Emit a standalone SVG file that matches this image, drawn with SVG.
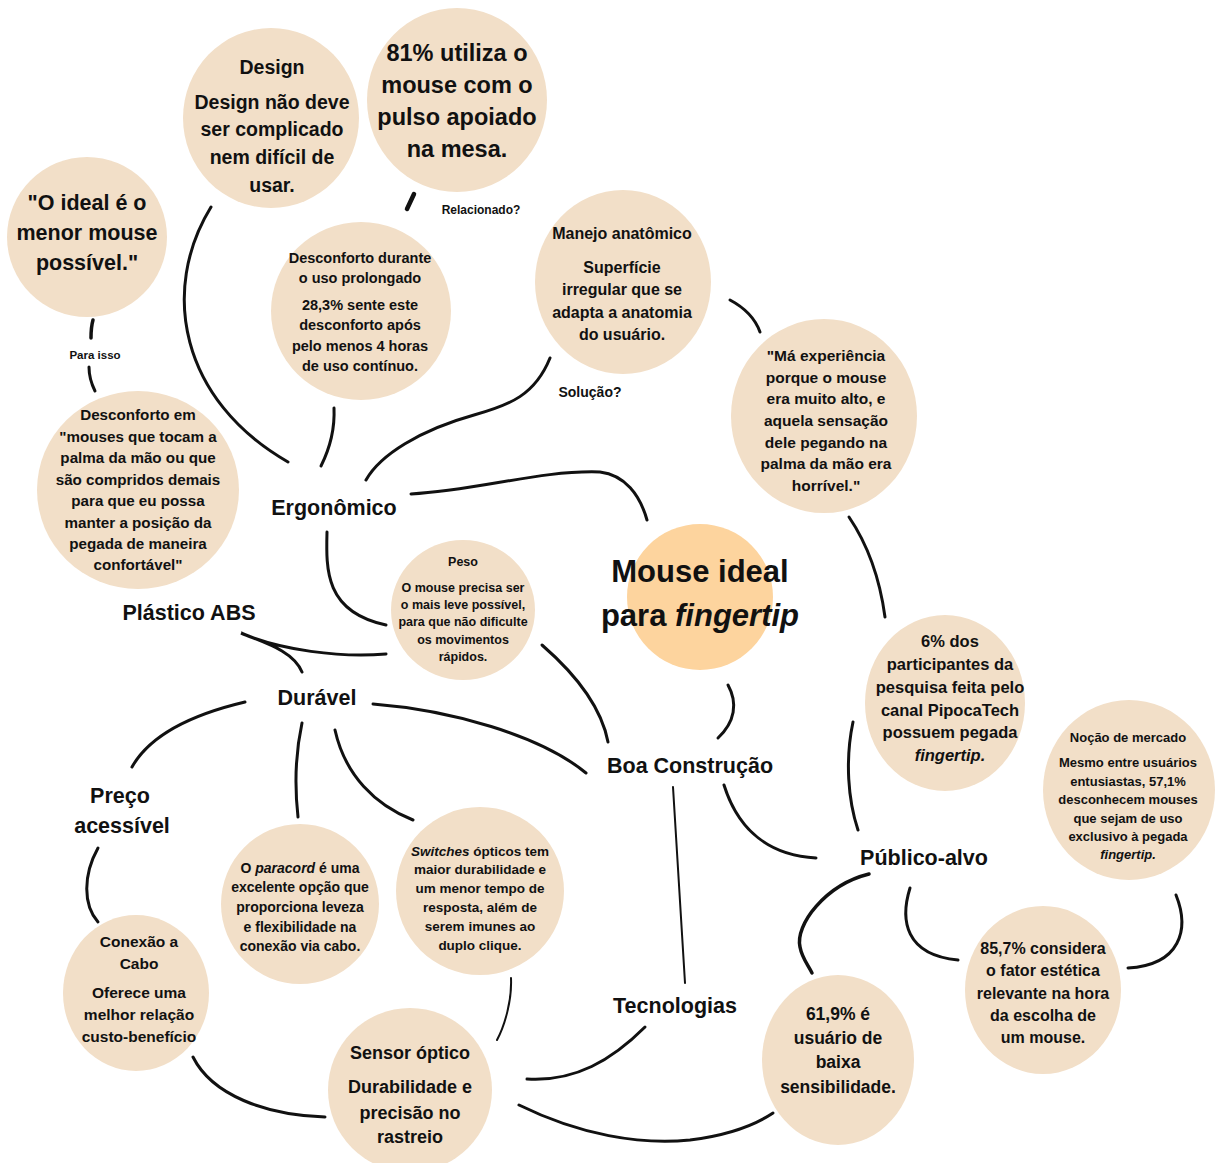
<svg xmlns="http://www.w3.org/2000/svg" width="1217" height="1163" viewBox="0 0 1217 1163">
<style>
.bg{fill:#ffffff}
.n{fill:#f2dfc8}
.m{fill:#fdd49e}
text{font-family:"Liberation Sans",Arial,sans-serif;font-weight:bold;fill:#111;text-anchor:middle}
.c path{fill:none;stroke:#111;stroke-width:3;stroke-linecap:round}
.lb{font-size:21.5px}
.i{font-style:italic}
</style>
<rect class="bg" width="1217" height="1163"/>

<g id="connectors" class="c">
<path d="M211,207 C160,290 180,400 288,462"/>
<path d="M414,194 L407,209" style="stroke-width:4.5"/>
<path d="M334,408 C335,430 330,448 321,466"/>
<path d="M93,320 C91,327 91,333 91,338" style="stroke-width:3.5"/>
<path d="M89,367 C89,378 92,385 95,391"/>
<path d="M550,358 C535,395 510,405 474,415 C420,430 380,455 366,480"/>
<path d="M730,300 C745,308 755,318 760,332"/>
<path d="M411,494 C480,490 540,470 600,472 C625,475 640,495 647,520"/>
<path d="M849,517 C868,545 880,580 885,617"/>
<path d="M327,532 C326,570 325,612 386,625"/>
<path d="M386,654 C340,658 280,650 241,633 C262,642 293,650 302,672"/>
<path d="M542,645 C565,665 600,700 608,742"/>
<path d="M728,685 C738,703 735,722 718,738"/>
<path d="M245,702 C190,715 150,735 132,767"/>
<path d="M373,704 C450,710 540,735 586,773"/>
<path d="M302,723 C294,760 295,790 298,817"/>
<path d="M335,730 C345,775 375,805 413,820"/>
<path d="M98,848 C83,875 83,905 98,922"/>
<path d="M193,1057 C212,1095 265,1115 325,1117"/>
<path d="M511,978 C512,1000 505,1025 497,1040" style="stroke-width:2"/>
<path d="M673,787 L685,983" style="stroke-width:2"/>
<path d="M645,1027 C612,1060 575,1082 527,1079"/>
<path d="M519,1105 C580,1135 640,1145 690,1140 C730,1135 755,1125 773,1113"/>
<path d="M724,785 C735,820 760,855 816,858"/>
<path d="M853,722 C845,760 848,800 858,830"/>
<path d="M869,874 C825,885 795,925 800,947 C802,958 808,965 812,973" style="stroke-width:3.5"/>
<path d="M910,888 C900,920 905,955 958,960"/>
<path d="M1176,895 C1190,930 1180,965 1128,968"/>
</g>

<g id="design">
<ellipse class="n" cx="271" cy="118" rx="88" ry="90"/>
<text font-size="19.5" x="272" y="74">Design</text>
<text font-size="19.5" x="272"><tspan x="272" y="109">Design não deve</tspan><tspan x="272" y="136">ser complicado</tspan><tspan x="272" y="164">nem difícil de</tspan><tspan x="272" y="192">usar.</tspan></text>
</g>

<g id="pulso">
<ellipse class="n" cx="457" cy="100" rx="90" ry="92"/>
<text font-size="23.5"><tspan x="457" y="61">81% utiliza o</tspan><tspan x="457" y="93">mouse com o</tspan><tspan x="457" y="125">pulso apoiado</tspan><tspan x="457" y="157">na mesa.</tspan></text>
</g>

<g id="ideal">
<ellipse class="n" cx="87" cy="237" rx="80" ry="80"/>
<text font-size="21.5"><tspan x="87" y="210">"O ideal é o</tspan><tspan x="87" y="240">menor mouse</tspan><tspan x="87" y="270">possível."</tspan></text>
</g>

<g id="desconforto-prolongado">
<ellipse class="n" cx="361" cy="311" rx="90" ry="89"/>
<text font-size="14.5"><tspan x="360" y="263">Desconforto durante</tspan><tspan x="360" y="283">o uso prolongado</tspan><tspan x="360" y="310">28,3% sente este</tspan><tspan x="360" y="330">desconforto após</tspan><tspan x="360" y="351">pelo menos 4 horas</tspan><tspan x="360" y="371">de uso contínuo.</tspan></text>
</g>

<g id="manejo">
<ellipse class="n" cx="623" cy="282" rx="88" ry="92"/>
<text font-size="16"><tspan x="622" y="239">Manejo anatômico</tspan><tspan x="622" y="273">Superfície</tspan><tspan x="622" y="295">irregular que se</tspan><tspan x="622" y="318">adapta a anatomia</tspan><tspan x="622" y="340">do usuário.</tspan></text>
</g>

<g id="ma-experiencia">
<ellipse class="n" cx="824" cy="416" rx="93" ry="97"/>
<text font-size="15.5"><tspan x="826" y="361">"Má experiência</tspan><tspan x="826" y="383">porque o mouse</tspan><tspan x="826" y="404">era muito alto, e</tspan><tspan x="826" y="426">aquela sensação</tspan><tspan x="826" y="448">dele pegando na</tspan><tspan x="826" y="469">palma da mão era</tspan><tspan x="826" y="491">horrível."</tspan></text>
</g>

<g id="desconforto-palma">
<ellipse class="n" cx="138" cy="490" rx="101" ry="99"/>
<text font-size="15.2"><tspan x="138" y="420">Desconforto em</tspan><tspan x="138" y="442">"mouses que tocam a</tspan><tspan x="138" y="463">palma da mão ou que</tspan><tspan x="138" y="485">são compridos demais</tspan><tspan x="138" y="506">para que eu possa</tspan><tspan x="138" y="528">manter a posição da</tspan><tspan x="138" y="549">pegada de maneira</tspan><tspan x="138" y="570">confortável"</tspan></text>
</g>

<g id="peso">
<ellipse class="n" cx="463" cy="610" rx="72" ry="70"/>
<text font-size="12.5"><tspan x="463" y="566">Peso</tspan><tspan x="463" y="592">O mouse precisa ser</tspan><tspan x="463" y="609">o mais leve possível,</tspan><tspan x="463" y="626">para que não dificulte</tspan><tspan x="463" y="644">os movimentos</tspan><tspan x="463" y="661">rápidos.</tspan></text>
</g>

<g id="central">
<circle class="m" cx="700" cy="597" r="73"/>
<text font-size="31"><tspan x="700" y="582">Mouse ideal</tspan><tspan x="700" y="626">para <tspan class="i">fingertip</tspan></tspan></text>
</g>

<g id="pipocatech">
<ellipse class="n" cx="945" cy="703" rx="80" ry="88"/>
<text font-size="16.5"><tspan x="950" y="647">6% dos</tspan><tspan x="950" y="670">participantes da</tspan><tspan x="950" y="693">pesquisa feita pelo</tspan><tspan x="950" y="716">canal PipocaTech</tspan><tspan x="950" y="738">possuem pegada</tspan><tspan x="950" y="761" class="i">fingertip.</tspan></text>
</g>

<g id="nocao-mercado">
<ellipse class="n" cx="1129" cy="790" rx="86" ry="90"/>
<text font-size="13"><tspan x="1128" y="742">Noção de mercado</tspan><tspan x="1128" y="767">Mesmo entre usuários</tspan><tspan x="1128" y="786">entusiastas, 57,1%</tspan><tspan x="1128" y="804">desconhecem mouses</tspan><tspan x="1128" y="823">que sejam de uso</tspan><tspan x="1128" y="841">exclusivo à pegada</tspan><tspan x="1128" y="859" class="i">fingertip.</tspan></text>
</g>

<g id="estetica">
<ellipse class="n" cx="1043" cy="990" rx="78" ry="84"/>
<text font-size="16"><tspan x="1043" y="954">85,7% considera</tspan><tspan x="1043" y="976">o fator estética</tspan><tspan x="1043" y="999">relevante na hora</tspan><tspan x="1043" y="1021">da escolha de</tspan><tspan x="1043" y="1043">um mouse.</tspan></text>
</g>

<g id="sensibilidade">
<ellipse class="n" cx="838" cy="1060" rx="76" ry="85"/>
<text font-size="17.5"><tspan x="838" y="1020">61,9% é</tspan><tspan x="838" y="1044">usuário de</tspan><tspan x="838" y="1068">baixa</tspan><tspan x="838" y="1093">sensibilidade.</tspan></text>
</g>

<g id="paracord">
<ellipse class="n" cx="300" cy="904" rx="79" ry="80"/>
<text font-size="14"><tspan x="300" y="873">O <tspan class="i">paracord</tspan> é uma</tspan><tspan x="300" y="892">excelente opção que</tspan><tspan x="300" y="912">proporciona leveza</tspan><tspan x="300" y="932">e flexibilidade na</tspan><tspan x="300" y="951">conexão via cabo.</tspan></text>
</g>

<g id="switches">
<ellipse class="n" cx="480" cy="891" rx="84" ry="84"/>
<text font-size="13.5"><tspan x="480" y="856"><tspan class="i">Switches</tspan> ópticos tem</tspan><tspan x="480" y="874">maior durabilidade e</tspan><tspan x="480" y="893">um menor tempo de</tspan><tspan x="480" y="912">resposta, além de</tspan><tspan x="480" y="931">serem imunes ao</tspan><tspan x="480" y="950">duplo clique.</tspan></text>
</g>

<g id="conexao-cabo">
<ellipse class="n" cx="136" cy="993" rx="73" ry="78"/>
<text font-size="15.5"><tspan x="139" y="947">Conexão a</tspan><tspan x="139" y="969">Cabo</tspan><tspan x="139" y="998">Oferece uma</tspan><tspan x="139" y="1020">melhor relação</tspan><tspan x="139" y="1042">custo-benefício</tspan></text>
</g>

<g id="sensor">
<ellipse class="n" cx="410" cy="1090" rx="82" ry="82"/>
<text font-size="18"><tspan x="410" y="1059">Sensor óptico</tspan><tspan x="410" y="1093">Durabilidade e</tspan><tspan x="410" y="1119">precisão no</tspan><tspan x="410" y="1143">rastreio</tspan></text>
</g>

<g id="ergonomico"><text class="lb" x="334" y="515">Ergonômico</text></g>
<g id="plastico"><text class="lb" x="189" y="620">Plástico ABS</text></g>
<g id="duravel"><text class="lb" x="317" y="705">Durável</text></g>
<g id="boa-construcao"><text class="lb" x="690" y="773">Boa Construção</text></g>
<g id="preco"><text class="lb"><tspan x="120" y="803">Preço</tspan><tspan x="122" y="833">acessível</tspan></text></g>
<g id="publico"><text class="lb" x="924" y="865">Público-alvo</text></g>
<g id="tecnologias"><text class="lb" x="675" y="1013">Tecnologias</text></g>

<g id="edge-labels">
<text font-size="12" x="481" y="214">Relacionado?</text>
<text font-size="11.5" x="95" y="359">Para isso</text>
<text font-size="14" x="590" y="397">Solução?</text>
</g>
</svg>
